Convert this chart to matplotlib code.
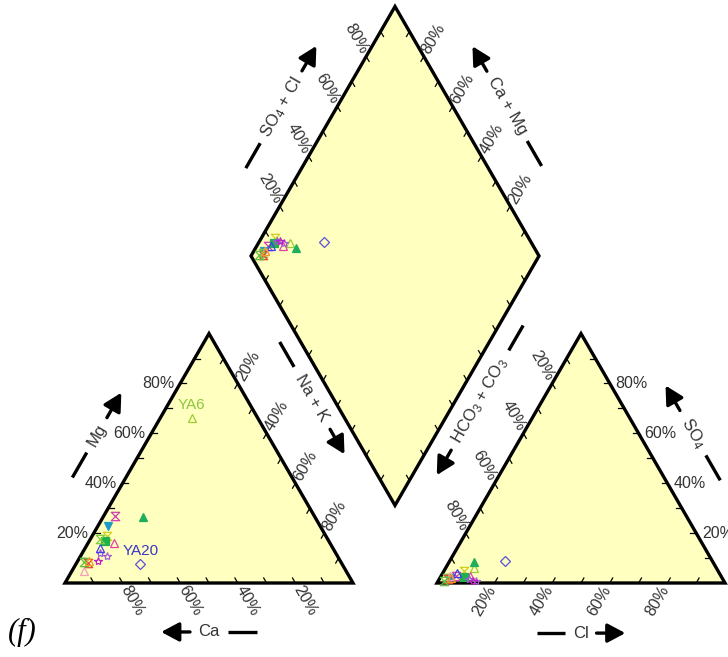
"""Piper diagram (panel f): cation / anion triangles and the central diamond."""

import matplotlib
matplotlib.use("Agg")
import matplotlib.pyplot as plt
import numpy as np
from matplotlib.path import Path

plt.rcParams["font.family"] = ["Liberation Sans", "DejaVu Sans"]
plt.rcParams["mathtext.default"] = "regular"

FILL_COLOR = "#ffffc0"
TEXT_COLOR = "#333333"
EDGE_LW = 2.4

# hourglass marker (two triangles tip to tip, with bars)
HOURGLASS = Path([(-1, 1), (1, 1), (-1, -1), (1, -1), (-1, 1)],
                 [Path.MOVETO, Path.LINETO, Path.LINETO, Path.LINETO, Path.CLOSEPOLY])

# ---- sample chemistry (meq %) ----
ca = [70, 23, 59.5, 69, 73.5, 75, 76, 77.5, 82, 81, 79, 80, 88, 91, 89, 87, 84]
mg = [7.6, 66, 26.5, 27, 23, 16, 19, 17, 12, 14, 17.5, 11, 8, 5, 8.5, 9, 9]
nak = [22.4, 11, 14, 4, 3.5, 9, 5, 5.5, 6, 5, 3.5, 9, 4, 4, 2.5, 4, 7]
hco3 = [72, 84, 83, 92, 94.5, 87, 88, 89.5, 88, 91, 95.5, 86, 95.5, 94, 97, 94, 87]
so4 = [8.8, 6, 8.5, 3, 2, 3, 5, 2.5, 1.5, 4, 2, 1, 1.5, 3, 1, 2, 1]
cl = [19.2, 10, 8.5, 5, 3.5, 10, 7, 8, 10.5, 5, 2.5, 13, 3, 3, 2, 4, 12]
annot = ["YA20", "YA6"] + [""] * 15
markers = ["D", "^", "^", HOURGLASS, "v", "^", HOURGLASS, "s", "*", "^",
           HOURGLASS, "*", HOURGLASS, "^", HOURGLASS, "^", "*"]
colors = ["#5b4fd6", "#9acd32", "#1fae5a", "#d13fb4", "#1c9cc6", "#e043a8",
          "#cfcf1f", "#20b04c", "#9b59d6", "#3f3ff0", "#7fcc3f", "#a35fd2",
          "#e24a33", "#f2a0b9", "#5fbf3f", "#f09a2a", "#c21fc2"]
filled = [False, False, True, False, True, False, False, True, False, False,
          False, False, False, False, False, False, False]
annot_colors = {"YA20": "#3b35c8", "YA6": "#8cc63f"}

# ---- geometry (unit = triangle side) ----
S = np.sqrt(3) / 2
G = 84 / 288          # gap between the triangles
LIFT = 0.017          # diamond sits a touch higher
TICK_LEN = 0.02
LABEL_OFF = 0.07
ALEN = 0.10

L = np.array([0.5 + G / 2, (1 + G) * S + LIFT])
T = L + np.array([0.5, S])
R = L + np.array([1.0, 0.0])
B = L + np.array([0.5, -S])
CA0, CA1, CAP = np.array([0, 0]), np.array([1, 0]), np.array([0.5, S])
AN0, AN1, ANP = np.array([1 + G, 0]), np.array([2 + G, 0]), np.array([1.5 + G, S])


def cation_xy(c, m, n):
    tot = c + m + n
    return (n + m / 2) / tot, m / tot * S


def anion_xy(h, s, c):
    tot = h + s + c
    return 1 + G + (c + s / 2) / tot, s / tot * S


def diamond_xy(c, m, n, h, s, cl_):
    f_na = n / (c + m + n)
    f_s = (s + cl_) / (h + s + cl_)
    p = L + f_na * np.array([0.5, -S]) + f_s * np.array([0.5, S])
    return p[0], p[1]


def edge_scale(ax, p0, p1, inward, rot=0, side=None, labels=True):
    p0, p1, inward = (np.asarray(v, float) for v in (p0, p1, inward))
    for v in range(10, 100, 10):
        p = p0 + (p1 - p0) * v / 100
        q = p + inward * TICK_LEN
        ax.plot([p[0], q[0]], [p[1], q[1]], color="black", lw=0.9, zorder=3)
        if not labels or v % 20:
            continue
        if side is None:
            c = p - inward * LABEL_OFF
            ax.text(c[0], c[1], f"{v}%", rotation=rot, rotation_mode="anchor",
                    ha="center", va="center", fontsize=11.5, color=TEXT_COLOR)
        else:
            ax.text(p[0] + side * 0.02, p[1], f"{v}%", ha="left" if side > 0 else "right",
                    va="center", fontsize=11.5, color=TEXT_COLOR)


def axis_title(ax, p0, p1, t, off, inner, text):
    p0, p1 = np.asarray(p0, float), np.asarray(p1, float)
    u = (p1 - p0) / np.linalg.norm(p1 - p0)
    nrm = np.array([-u[1], u[0]])
    c = p0 + t * (p1 - p0) + off * nrm
    ang = np.degrees(np.arctan2(u[1], u[0]))
    if ang > 90:
        ang -= 180
    elif ang <= -90:
        ang += 180
    ax.text(c[0], c[1], text, rotation=ang, rotation_mode="anchor",
            ha="center", va="center", fontsize=12, color=TEXT_COLOR)
    d0, d1 = c - u * (inner + ALEN), c - u * inner
    ax.plot([d0[0], d1[0]], [d0[1], d1[1]], color="black", lw=2.4, solid_capstyle="butt")
    a0, a1 = c + u * inner, c + u * (inner + ALEN)
    ax.annotate("", xy=a1, xytext=a0,
                arrowprops=dict(arrowstyle="-|>,head_length=0.6,head_width=0.32",
                                lw=2.4, color="black", shrinkA=0, shrinkB=0,
                                mutation_scale=18))


fig = plt.figure(figsize=(7.28, 6.57), dpi=100)
ax = fig.add_axes([0, 0, 1, 1])
ax.set_xlim(-65 / 288, 663 / 288)
ax.set_ylim(-74 / 288, 583 / 288)
ax.set_aspect("equal")
ax.axis("off")

for poly in ([CA0, CA1, CAP], [AN0, AN1, ANP], [L, B, R, T]):
    ax.add_patch(plt.Polygon(poly, closed=True, facecolor=FILL_COLOR, edgecolor="black",
                             lw=EDGE_LW, joinstyle="miter", zorder=2))

# cation triangle scales
edge_scale(ax, CA1, CA0, (-0.5, S), rot=-60)            # Ca
edge_scale(ax, CA0, CAP, (1, 0), side=-1)                # Mg
edge_scale(ax, CAP, CA1, (-0.5, -S), rot=60)             # Na + K
# anion triangle scales
edge_scale(ax, AN0, AN1, (0.5, S), rot=60)               # Cl
edge_scale(ax, AN1, ANP, (-1, 0), side=1)                # SO4
edge_scale(ax, ANP, AN0, (0.5, -S), rot=-60)             # HCO3 + CO3
# diamond scales
edge_scale(ax, L, T, (0.5, -S), rot=-60)                 # SO4 + Cl
edge_scale(ax, R, T, (-0.5, -S), rot=60)                 # Ca + Mg
edge_scale(ax, L, B, (0.5, S), labels=False)
edge_scale(ax, B, R, (-0.5, S), labels=False)

axis_title(ax, CA0, CAP, 0.50, 0.161, 0.07, "Mg")
axis_title(ax, CAP, CA1, 0.373, 0.198, 0.125, "Na + K")
axis_title(ax, CA1, CA0, 0.50, 0.170, 0.066, "Ca")
axis_title(ax, AN0, AN1, 0.50, -0.174, 0.054, "Cl")
axis_title(ax, AN1, ANP, 0.507, -0.164, 0.09, "SO$_4$")
axis_title(ax, ANP, AN0, 0.376, -0.188, 0.20, "HCO$_3$ + CO$_3$")
axis_title(ax, L, T, 0.50, 0.168, 0.145, "SO$_4$ + Cl")
axis_title(ax, R, T, 0.506, -0.164, 0.14, "Ca + Mg")

for i in range(len(ca)):
    pts = [cation_xy(ca[i], mg[i], nak[i]),
           anion_xy(hco3[i], so4[i], cl[i]),
           diamond_xy(ca[i], mg[i], nak[i], hco3[i], so4[i], cl[i])]
    ms = 5 if markers[i] == "D" else 6
    for x, y in pts:
        ax.plot(x, y, marker=markers[i], ms=ms, mew=0.9, color=colors[i],
                mfc=colors[i] if filled[i] else "none", ls="none", zorder=4)
    if annot[i]:
        x, y = pts[0]
        ax.annotate(annot[i], (x, y), xytext=(0, 9.5), textcoords="offset points",
                    ha="center", va="center", fontsize=11, color=annot_colors[annot[i]])

fig.text(22 / 728, 1 - 632 / 657, "(f)", family=["Liberation Serif", "DejaVu Serif"],
         style="italic", fontsize=22, ha="center", va="center", color="black")

fig.savefig("out.png", dpi=100, facecolor="white")
